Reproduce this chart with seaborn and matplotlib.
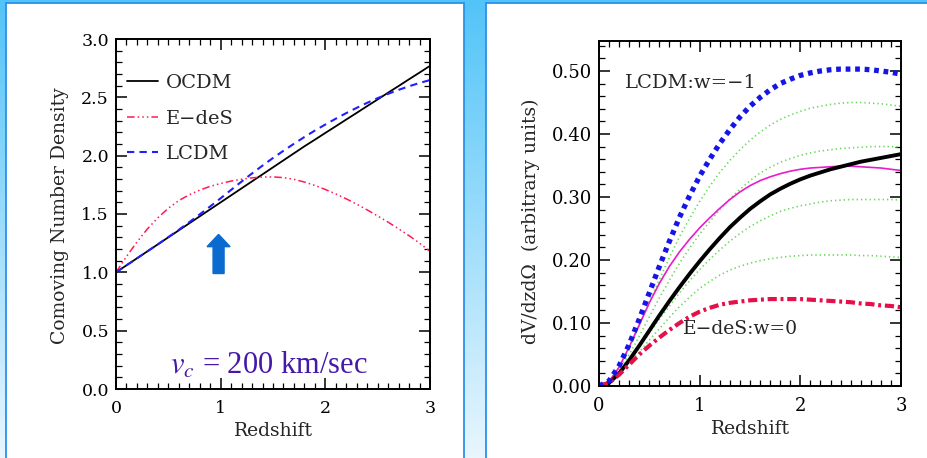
import numpy as np
import pandas as pd
import matplotlib
matplotlib.use("Agg")
import matplotlib.pyplot as plt
import seaborn as sns
from matplotlib.patches import Rectangle, FancyArrow
from matplotlib.ticker import MultipleLocator, FormatStrFormatter

# ---------------- data ----------------
redshift = [0.0, 0.1, 0.2, 0.3, 0.4, 0.5, 0.6, 0.7, 0.8, 0.9,
            1.0, 1.1, 1.2, 1.3, 1.4, 1.5, 1.6, 1.7, 1.8, 1.9,
            2.0, 2.1, 2.2, 2.3, 2.4, 2.5, 2.6, 2.7, 2.8, 2.9, 3.0]

# left panel: comoving number density (vc = 200 km/sec)
ocdm_density = [1.00, 1.06, 1.12, 1.18, 1.24, 1.30, 1.36, 1.42, 1.48, 1.54,
                1.60, 1.66, 1.72, 1.78, 1.84, 1.90, 1.96, 2.02, 2.08, 2.137,
                2.195, 2.252, 2.31, 2.367, 2.425, 2.482, 2.54, 2.597, 2.655, 2.712, 2.77]
edes_density = [1.00, 1.135, 1.26, 1.372, 1.468, 1.549, 1.615, 1.665, 1.705, 1.737,
                1.762, 1.782, 1.798, 1.81, 1.817, 1.818, 1.812, 1.797, 1.774, 1.745,
                1.71, 1.672, 1.63, 1.584, 1.535, 1.483, 1.43, 1.373, 1.314, 1.25, 1.18]
lcdm_density = [1.00, 1.06, 1.12, 1.18, 1.24, 1.302, 1.365, 1.43, 1.497, 1.565,
                1.635, 1.707, 1.778, 1.848, 1.915, 1.98, 2.042, 2.102, 2.16, 2.215,
                2.267, 2.317, 2.365, 2.41, 2.453, 2.493, 2.53, 2.564, 2.595, 2.623, 2.648]
left_labels = ["OCDM", "E\u2212deS", "LCDM"]

# right panel: dV/dz dOmega (arbitrary units)
dv_lcdm = [0.000, 0.008, 0.032, 0.066, 0.106, 0.148, 0.190, 0.230, 0.268, 0.302,
           0.333, 0.360, 0.385, 0.407, 0.427, 0.444, 0.458, 0.470, 0.480, 0.487,
           0.493, 0.497, 0.500, 0.502, 0.503, 0.503, 0.503, 0.502, 0.500, 0.498, 0.495]
dv_green1 = [0.000, 0.007, 0.029, 0.060, 0.096, 0.133, 0.169, 0.204, 0.237, 0.266,
             0.293, 0.317, 0.339, 0.358, 0.375, 0.390, 0.403, 0.414, 0.423, 0.430,
             0.436, 0.441, 0.444, 0.447, 0.449, 0.450, 0.450, 0.449, 0.448, 0.446, 0.444]
dv_green2 = [0.000, 0.006, 0.025, 0.050, 0.079, 0.110, 0.140, 0.168, 0.195, 0.219,
             0.241, 0.261, 0.280, 0.297, 0.312, 0.326, 0.338, 0.347, 0.355, 0.361,
             0.366, 0.370, 0.373, 0.375, 0.377, 0.378, 0.379, 0.380, 0.380, 0.380, 0.379]
dv_magenta = [0.000, 0.007, 0.030, 0.062, 0.097, 0.132, 0.163, 0.190, 0.213, 0.233,
              0.251, 0.267, 0.282, 0.296, 0.308, 0.318, 0.326, 0.332, 0.337, 0.341,
              0.344, 0.346, 0.347, 0.348, 0.349, 0.349, 0.348, 0.347, 0.346, 0.344, 0.342]
dv_black = [0.000, 0.005, 0.020, 0.041, 0.064, 0.088, 0.112, 0.135, 0.157, 0.178,
            0.198, 0.217, 0.235, 0.252, 0.267, 0.281, 0.293, 0.304, 0.313, 0.321,
            0.328, 0.334, 0.339, 0.344, 0.348, 0.352, 0.356, 0.359, 0.362, 0.365, 0.368]
dv_green3 = [0.000, 0.005, 0.020, 0.040, 0.062, 0.084, 0.106, 0.127, 0.148, 0.167,
             0.185, 0.201, 0.216, 0.230, 0.242, 0.253, 0.262, 0.270, 0.277, 0.282,
             0.286, 0.289, 0.292, 0.294, 0.295, 0.296, 0.296, 0.296, 0.296, 0.296, 0.295]
dv_green4 = [0.000, 0.005, 0.019, 0.036, 0.054, 0.073, 0.091, 0.109, 0.126, 0.141,
             0.155, 0.166, 0.176, 0.184, 0.190, 0.195, 0.199, 0.202, 0.204, 0.206,
             0.207, 0.208, 0.208, 0.208, 0.208, 0.208, 0.207, 0.207, 0.206, 0.205, 0.204]
dv_edes = [0.000, 0.005, 0.018, 0.034, 0.050, 0.064, 0.077, 0.089, 0.100, 0.110,
           0.118, 0.124, 0.129, 0.132, 0.134, 0.136, 0.137, 0.138, 0.138, 0.138,
           0.138, 0.137, 0.136, 0.135, 0.134, 0.133, 0.131, 0.130, 0.128, 0.127, 0.125]

# ---------------- style ----------------
sns.set_theme(style="ticks")
plt.rcParams["font.family"] = ["DejaVu Serif", "DejaVu Sans"]
plt.rcParams["mathtext.fontset"] = "stix"
plt.rcParams["axes.linewidth"] = 1.4

W, H = 928, 458
fig = plt.figure(figsize=(W / 100, H / 100), dpi=100)

# gradient background
bg = fig.add_axes([0, 0, 1, 1], zorder=-10)
top = np.array([0x52, 0xc4, 0xf8]) / 255
bot = np.array([0xe8, 0xf6, 0xfe]) / 255
t = np.linspace(0, 1, 256)[:, None]
grad = (top[None, :] * (1 - t) + bot[None, :] * t)[:, None, :]
bg.imshow(grad, aspect="auto", extent=[0, 1, 0, 1], origin="upper")
bg.set_axis_off()

# white panels
for x0, x1 in [(6, 464), (486, 940)]:
    fig.patches.append(Rectangle((x0 / W, -0.05), (x1 - x0) / W, 1.05 - 3 / H,
                                 transform=fig.transFigure, facecolor="white",
                                 edgecolor="#2a90ea", linewidth=1.3, zorder=-5))


def style_axes(ax, xminor, ymajor, yminor, fmt, fs):
    ax.xaxis.set_major_locator(MultipleLocator(1))
    ax.xaxis.set_minor_locator(MultipleLocator(xminor))
    ax.yaxis.set_major_locator(MultipleLocator(ymajor))
    ax.yaxis.set_minor_locator(MultipleLocator(yminor))
    ax.yaxis.set_major_formatter(FormatStrFormatter(fmt))
    ax.xaxis.set_major_formatter(FormatStrFormatter("%d"))
    ax.tick_params(which="both", direction="in", top=True, right=True,
                   color="black", labelsize=fs, labelcolor="black")
    ax.tick_params(which="major", length=8, width=1.1)
    ax.tick_params(which="minor", length=4, width=0.9)
    ax.tick_params(axis="x", pad=8)
    ax.tick_params(axis="y", pad=5)
    for s in ax.spines.values():
        s.set_visible(True)
        s.set_color("black")
    ax.set_facecolor("white")


# ---------------- left panel ----------------
ax1 = fig.add_axes([116 / W, (H - 389) / H, 314 / W, 350 / H])
sns.lineplot(x=redshift, y=ocdm_density, ax=ax1, color="black", linewidth=1.3,
             label=left_labels[0])
sns.lineplot(x=redshift, y=edes_density, ax=ax1, color="#ff1a55", linewidth=1.1,
             linestyle=(0, (5, 2, 1, 2, 1, 2, 1, 2)), label=left_labels[1])
sns.lineplot(x=redshift, y=lcdm_density, ax=ax1, color="#2020ff", linewidth=1.5,
             linestyle=(0, (3.5, 2.5)), label=left_labels[2])
ax1.set_xlim(0, 3)
ax1.set_ylim(0, 3)
style_axes(ax1, 0.1, 0.5, 0.1, "%.1f", 12.5)
ax1.set_xlabel("Redshift", fontsize=13.5)
ax1.set_ylabel("Comoving Number Density", fontsize=13.5)
ax1.xaxis.set_label_coords(0.5, -0.095)
ax1.yaxis.set_label_coords(-0.15, 0.495)
ax1.legend(loc="upper left", bbox_to_anchor=(0.0, 0.93), frameon=False,
           fontsize=14, handlelength=1.6, handletextpad=0.4, labelspacing=0.9,
           borderaxespad=0.15)
ax1.add_patch(FancyArrow(0.98, 0.99, 0, 0.335, width=0.105, head_width=0.22,
                         head_length=0.105, length_includes_head=True,
                         color="#0a6ad0", zorder=5))
ax1.text(0.52, 0.2, r"$v_c$ = 200 km/sec", fontsize=22, color="#4518a8",
         family=["Liberation Serif", "DejaVu Serif"], va="center", ha="left")

# ---------------- right panel ----------------
ax2 = fig.add_axes([599 / W, (H - 386) / H, 302 / W, 345 / H])
green = "#66d95a"
for series in [dv_green1, dv_green2, dv_green3, dv_green4]:
    sns.lineplot(x=redshift, y=series, ax=ax2, color=green, linewidth=1.2,
                 linestyle=(0, (0.8, 1.8)))
sns.lineplot(x=redshift, y=dv_magenta, ax=ax2, color="#e81ccc", linewidth=1.2)
sns.lineplot(x=redshift, y=dv_black, ax=ax2, color="black", linewidth=2.8)
sns.lineplot(x=redshift, y=dv_edes, ax=ax2, color="#e5104a", linewidth=3.0,
             linestyle=(0, (2.2, 0.9, 0.7, 0.9)))
sns.lineplot(x=redshift, y=dv_lcdm, ax=ax2, color="#1515e8", linewidth=3.8,
             linestyle=(0, (0.9, 0.9)))
ax2.set_xlim(0, 3)
ax2.set_ylim(0, 0.5476)
style_axes(ax2, 0.1, 0.1, 0.02, "%.2f", 13)
ax2.set_xlabel("Redshift", fontsize=13.5)
ax2.set_ylabel("dV/dzd\u03a9  (arbitrary units)", fontsize=13.5)
ax2.xaxis.set_label_coords(0.5, -0.1)
ax2.yaxis.set_label_coords(-0.195, 0.478)
ax2.text(0.26, 0.481, "LCDM:w=\u22121", fontsize=14, va="center", ha="left")
ax2.text(0.83, 0.090, "E\u2212deS:w=0", fontsize=13.5, va="center", ha="left")

fig.savefig("out.png", dpi=100)
